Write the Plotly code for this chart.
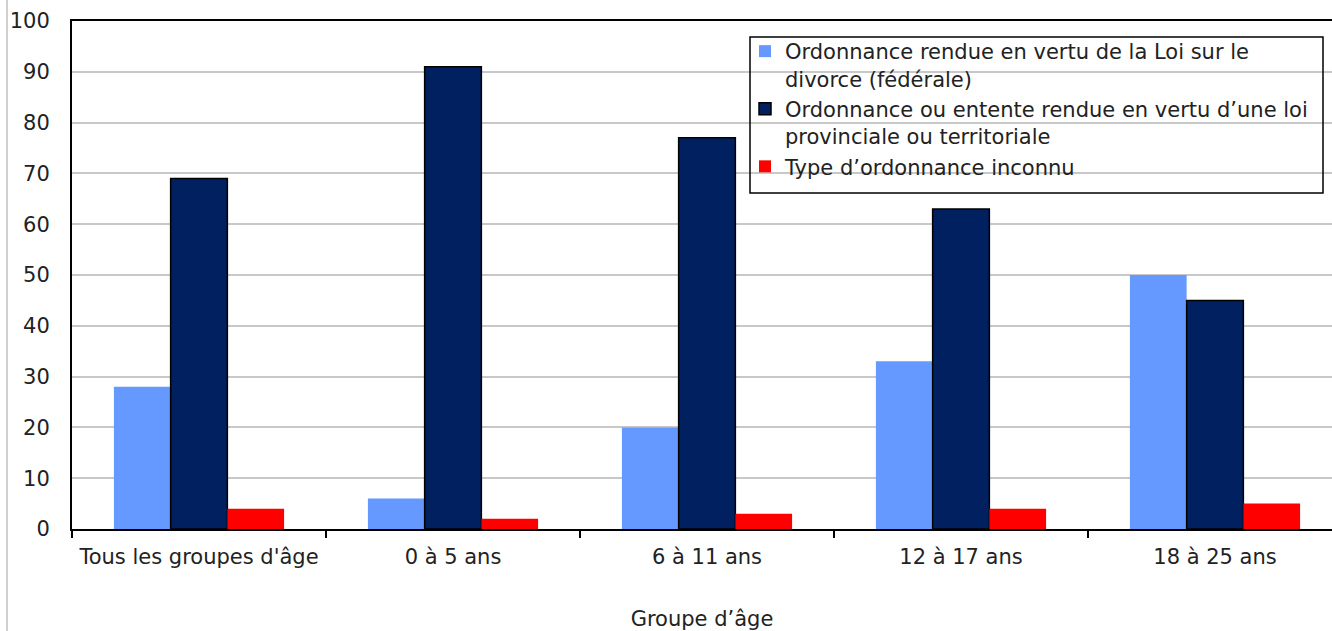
import plotly.graph_objects as go

# Groupes d'âge et pourcentages par type d'ordonnance
categories = ["Tous les groupes d'âge", "0 à 5 ans", "6 à 11 ans", "12 à 17 ans", "18 à 25 ans"]
federale = [28, 6, 20, 33, 50]
provinciale = [69, 91, 77, 63, 45]
inconnu = [4, 2, 3, 4, 5]

series_names = [
    "Ordonnance rendue en vertu de la Loi sur le<br>divorce (fédérale)",
    "Ordonnance ou entente rendue en vertu d’une loi<br>provinciale ou territoriale",
    "Type d’ordonnance inconnu",
]

FONT = "DejaVu Sans"
TXT = "#222222"
FS = 21

fig = go.Figure()
fig.add_trace(go.Bar(x=categories, y=federale, name=series_names[0],
                     marker=dict(color="#6699FF", line=dict(width=0))))
fig.add_trace(go.Bar(x=categories, y=provinciale, name=series_names[1],
                     marker=dict(color="#002060", line=dict(color="#000000", width=1.5))))
fig.add_trace(go.Bar(x=categories, y=inconnu, name=series_names[2],
                     marker=dict(color="#FF0000", line=dict(width=0))))

W, H = 1332, 631
L, T, B = 72, 21, 102
plot_w = W - L
ph = H - T - B
cat_px = 254.0

fig.update_layout(
    width=W, height=H,
    margin=dict(l=L, r=0, t=T, b=B, pad=0),
    paper_bgcolor="white", plot_bgcolor="white",
    barmode="group", bargap=0.33, bargroupgap=0,
    font=dict(family=FONT, size=FS, color=TXT),
    showlegend=True,
    legend=dict(
        x=(745 - L) / plot_w, xanchor="left",
        y=(H - B - 31) / ph, yanchor="top",
        bgcolor="rgba(0,0,0,0)", borderwidth=0,
        valign="top", itemwidth=30, tracegroupgap=0,
        font=dict(family=FONT, size=FS, color=TXT),
    ),
)

fig.update_xaxes(
    type="category",
    range=[-0.5, -0.5 + plot_w / cat_px],
    showline=True, linecolor="#000000", linewidth=2, mirror=True,
    ticks="outside", tickson="boundaries", ticklen=7, tickwidth=2, tickcolor="#000000",
    ticklabelstandoff=8,
    showgrid=False,
    tickfont=dict(family=FONT, size=FS, color=TXT),
    title=dict(text="Groupe d’âge", font=dict(family=FONT, size=FS, color=TXT), standoff=48),
)
fig.update_yaxes(
    range=[0, 100], dtick=10,
    showline=True, linecolor="#000000", linewidth=2,
    showgrid=True, gridcolor="#C8C8C8", gridwidth=1.5,
    ticks="", ticklabelstandoff=16,
    tickfont=dict(family=FONT, size=FS, color=TXT),
    zeroline=False,
)

# cadre du graphique (bord gauche) et boîte de la légende
fig.add_shape(type="line", xref="paper", yref="paper",
              x0=(7 - L) / plot_w, x1=(7 - L) / plot_w,
              y0=(H - B - H) / ph, y1=(H - B) / ph,
              line=dict(color="#D0D0D0", width=2))
fig.add_shape(type="rect", xref="paper", yref="paper",
              x0=(750 - L) / plot_w, x1=(1323 - L) / plot_w,
              y0=(H - B - 193) / ph, y1=(H - B - 37) / ph,
              line=dict(color="#000000", width=1.5), fillcolor="rgba(0,0,0,0)")

fig.write_html("out.html")
